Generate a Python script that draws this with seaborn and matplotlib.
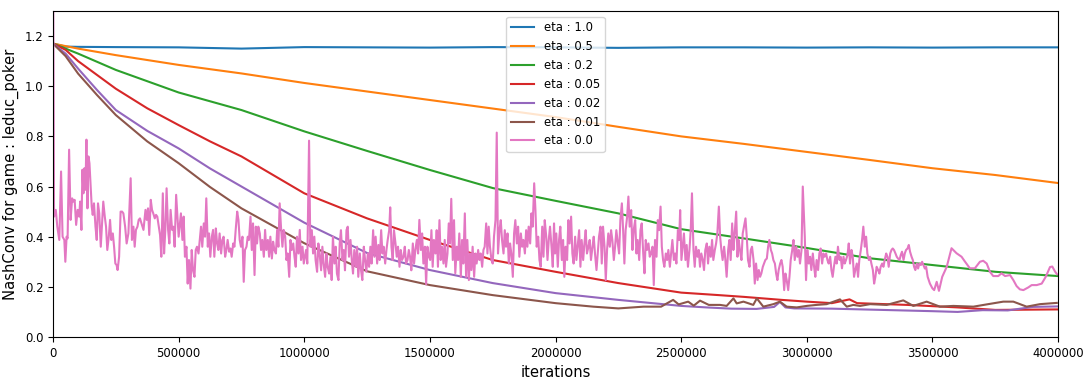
import numpy as np
import pandas as pd
import matplotlib
matplotlib.use('Agg')
import matplotlib.pyplot as plt
import seaborn as sns
from matplotlib.ticker import ScalarFormatter


labels = ['eta : 1.0', 'eta : 0.5', 'eta : 0.2', 'eta : 0.05',
          'eta : 0.02', 'eta : 0.01', 'eta : 0.0']

# iterations are in thousands
k_main = [0, 50, 100, 250, 500, 750, 1000, 1250, 1500, 1750, 2000,
          2250, 2500, 2750, 3000, 3250, 3500, 3750, 4000]
eta_1_0 = [1.17, 1.158, 1.157, 1.156, 1.155, 1.150, 1.156, 1.155, 1.154, 1.156,
           1.155, 1.153, 1.155, 1.155, 1.154, 1.155, 1.154, 1.155, 1.155]
eta_0_5 = [1.17, 1.16, 1.15, 1.124, 1.085, 1.051, 1.013, 0.979, 0.945, 0.911,
           0.877, 0.838, 0.80, 0.77, 0.738, 0.706, 0.673, 0.646, 0.614]
eta_0_2 = [1.17, 1.15, 1.13, 1.065, 0.975, 0.905, 0.82, 0.742, 0.666, 0.594,
           0.543, 0.493, 0.43, 0.393, 0.355, 0.314, 0.287, 0.26, 0.243]

k_red = [0, 50, 100, 175, 250, 375, 500, 625, 750, 1000, 1250, 1500, 1750, 2000,
         2250, 2500, 2650, 2750, 2900, 3000, 3100, 3170, 3200, 3400, 3600, 3750, 4000]
eta_0_05 = [1.17, 1.145, 1.10, 1.045, 0.99, 0.912, 0.845, 0.78, 0.72, 0.573,
            0.473, 0.387, 0.307, 0.26, 0.215, 0.177, 0.167, 0.16, 0.148, 0.141,
            0.135, 0.15, 0.135, 0.128, 0.118, 0.108, 0.11]

k_purple = [0, 50, 100, 175, 250, 375, 500, 625, 750, 1000, 1250, 1500, 1750,
            2000, 2250, 2500, 2600, 2700, 2800, 2870, 2893, 2915, 2950, 3100,
            3300, 3500, 3600, 3700, 3800, 3900, 4000]
eta_0_02 = [1.17, 1.13, 1.07, 0.985, 0.905, 0.822, 0.752, 0.672, 0.60, 0.456,
            0.335, 0.267, 0.215, 0.175, 0.148, 0.124, 0.118, 0.113, 0.112, 0.12,
            0.14, 0.118, 0.114, 0.113, 0.108, 0.103, 0.10, 0.107, 0.106, 0.12, 0.122]

k_brown = [0, 50, 100, 175, 250, 375, 500, 625, 750, 1000, 1250, 1500, 1750,
           2000, 2150, 2250, 2350, 2420, 2468, 2490, 2528, 2550, 2575, 2610,
           2655, 2681, 2708, 2721, 2748, 2787, 2801, 2827, 2867, 2893, 2920,
           2960, 3000, 3039, 3079, 3132, 3159, 3185, 3212, 3252, 3318, 3384,
           3424, 3477, 3530, 3583, 3663, 3716, 3782, 3822, 3875, 3928, 3995]
eta_0_01 = [1.17, 1.12, 1.05, 0.965, 0.885, 0.78, 0.693, 0.598, 0.513, 0.374,
            0.262, 0.207, 0.167, 0.135, 0.121, 0.114, 0.121, 0.121, 0.148, 0.13,
            0.141, 0.125, 0.145, 0.128, 0.128, 0.124, 0.154, 0.134, 0.141, 0.128,
            0.154, 0.121, 0.131, 0.141, 0.121, 0.118, 0.124, 0.128, 0.131, 0.150,
            0.121, 0.128, 0.124, 0.131, 0.128, 0.146, 0.124, 0.141, 0.121, 0.124,
            0.121, 0.130, 0.141, 0.141, 0.121, 0.131, 0.136]

k_pink = [
    0, 4, 11, 17, 25, 32, 38, 45, 49, 54, 58, 64, 70, 76, 81, 86, 92, 98, 104, 108,
    113, 117, 121, 125, 129, 133, 137, 141, 145, 149, 154, 158, 163, 169, 174, 179,
    184, 190, 195, 200, 206, 211, 216, 222, 227, 232, 238, 243, 248, 253, 257, 263,
    269, 275, 280, 287, 293, 300, 309, 314, 320, 325, 330, 336, 341, 346, 352, 360,
    368, 373, 378, 383, 389, 394, 399, 405, 410, 415, 421, 426, 431, 437, 442, 447,
    452, 458, 463, 468, 474, 479, 484, 490, 495, 500,
    509, 515, 520, 525, 531, 536, 541, 547, 552, 557, 563, 568, 573, 579, 584, 589,
    594, 600, 605, 610, 616, 621, 626, 632, 637, 642, 648, 653, 658, 663, 669, 674,
    679, 685, 690, 695, 701, 706, 711, 717, 722, 727, 733, 738, 743, 748, 754, 759,
    764, 770, 775, 780, 786, 791, 796, 802, 807, 812, 817, 823, 828, 833, 839, 844,
    849, 855, 860, 865, 871, 876, 881, 887, 892, 897, 902, 908, 913, 918, 924, 929,
    934, 940, 945, 950, 956, 961, 966, 971, 977, 982, 987, 993, 998,
    1007, 1012, 1019, 1024, 1030, 1035, 1040, 1045, 1051, 1056, 1061, 1067, 1072,
    1077, 1083, 1088, 1093, 1099, 1104, 1109, 1114, 1120, 1125, 1130, 1136, 1141,
    1146, 1152, 1157, 1162, 1168, 1173, 1178, 1184, 1189, 1194, 1199, 1205, 1210,
    1215, 1221, 1226, 1231, 1237, 1242, 1247, 1253, 1258, 1263, 1268, 1274, 1279,
    1284, 1290, 1295, 1300, 1306, 1311, 1316, 1322, 1327, 1332, 1338, 1342, 1347,
    1352, 1357, 1363, 1368, 1373, 1379, 1384, 1389, 1395, 1400, 1405, 1411, 1416,
    1421, 1426, 1432, 1437, 1442, 1448, 1453, 1458, 1464, 1469, 1474, 1480, 1485,
    1490, 1496,
    1501, 1506, 1511, 1516, 1522, 1527, 1532, 1538, 1543, 1548, 1554, 1559, 1564,
    1570, 1575, 1580, 1585, 1591, 1596, 1601, 1607, 1612, 1617, 1623, 1628, 1633,
    1639, 1644, 1649, 1655, 1660, 1665, 1670, 1676, 1681, 1686, 1692, 1697, 1702,
    1708, 1713, 1718, 1724, 1729, 1734, 1739, 1745, 1750, 1755, 1761, 1766, 1771,
    1777, 1782, 1787, 1793, 1798, 1803, 1809, 1814, 1819, 1824, 1830, 1835, 1840,
    1846, 1851, 1856, 1862, 1867, 1872, 1878, 1883, 1888, 1893, 1899, 1904, 1909,
    1915, 1920, 1925, 1931, 1936, 1941, 1947, 1952, 1957, 1963, 1968, 1973, 1978,
    1984, 1989, 1994,
    1998, 2003, 2009, 2014, 2019, 2025, 2030, 2035, 2040, 2046, 2051, 2056, 2062,
    2067, 2072, 2078, 2083, 2088, 2094, 2099, 2104, 2110, 2115, 2120, 2125, 2131,
    2136, 2141, 2147, 2152, 2157, 2163, 2168, 2173, 2179, 2184, 2189, 2195, 2200,
    2205, 2210, 2216, 2221, 2226, 2232, 2237, 2242, 2248, 2253, 2258, 2264, 2269,
    2274, 2279, 2285, 2290, 2295, 2301, 2306, 2311, 2317, 2322, 2327, 2333, 2338,
    2343, 2349, 2354, 2359, 2364, 2370, 2375, 2380, 2386, 2391, 2396, 2402, 2407,
    2412, 2418, 2423, 2428, 2433, 2439, 2444, 2449, 2455, 2460, 2465, 2471, 2476,
    2481, 2487, 2492,
    2496, 2501, 2506, 2511, 2517, 2522, 2527, 2533, 2538, 2543, 2549, 2554, 2559,
    2565, 2570, 2575, 2580, 2586, 2591, 2596, 2602, 2607, 2612, 2618, 2623, 2628,
    2634, 2639, 2644, 2650, 2655, 2660, 2665, 2671, 2676, 2681, 2687, 2692, 2697,
    2703, 2708, 2713, 2719, 2724, 2729, 2734, 2740, 2745, 2750, 2756, 2761, 2766,
    2772, 2777, 2782, 2788, 2793, 2798, 2804, 2809, 2814, 2819, 2825, 2830, 2835,
    2841, 2846, 2851, 2857, 2862, 2867, 2873, 2878, 2883, 2888, 2894, 2899, 2904,
    2910, 2915, 2920, 2926, 2931, 2936, 2942, 2947, 2952, 2958, 2963, 2968, 2973,
    2979, 2984,
    2992, 2997, 3002, 3008, 3013, 3018, 3024, 3029, 3034, 3039, 3045, 3050, 3055,
    3061, 3066, 3071, 3077, 3082, 3087, 3093, 3098, 3103, 3108, 3114, 3119, 3124,
    3130, 3135, 3140, 3146, 3151, 3156, 3162, 3167, 3172, 3178, 3183, 3188, 3193,
    3199, 3204, 3209, 3215, 3220, 3225, 3231, 3236, 3241, 3247, 3252, 3257, 3263,
    3268, 3273, 3278, 3284, 3289, 3294, 3300, 3305, 3310, 3316, 3321, 3326, 3332,
    3337, 3342, 3347, 3353, 3358, 3363, 3369, 3374, 3379, 3385, 3390, 3395, 3401,
    3406, 3411, 3417, 3422, 3427, 3432, 3438, 3443, 3448, 3454, 3459, 3464, 3470,
    3475,
    3481, 3490, 3500, 3507, 3517, 3526, 3539, 3557, 3576, 3596, 3616, 3630, 3649,
    3669, 3689, 3702, 3716, 3729, 3742, 3762, 3775, 3789, 3809, 3822, 3835, 3848,
    3862, 3882, 3895, 3915, 3935, 3951, 3968, 3977, 3988, 3996]
eta_0_0 = [
    1.60, 0.48, 0.507, 0.44, 0.387, 0.66, 0.40, 0.387, 0.30, 0.40, 0.393, 0.747,
    0.467, 0.553, 0.54, 0.547, 0.447, 0.507, 0.48, 0.54, 0.427, 0.667, 0.573, 0.673,
    0.587, 0.787, 0.513, 0.72, 0.693, 0.613, 0.52, 0.487, 0.533, 0.44, 0.387, 0.533,
    0.493, 0.36, 0.453, 0.54, 0.48, 0.44, 0.347, 0.40, 0.467, 0.387, 0.413, 0.36,
    0.293, 0.287, 0.267, 0.32, 0.50, 0.50, 0.493, 0.44, 0.373, 0.413, 0.633, 0.387,
    0.44, 0.36, 0.427, 0.44, 0.467, 0.473, 0.453, 0.427, 0.507, 0.467, 0.513, 0.407,
    0.547, 0.507, 0.493, 0.473, 0.487, 0.48, 0.44, 0.407, 0.32, 0.573, 0.333, 0.427,
    0.593, 0.427, 0.373, 0.507, 0.427, 0.44, 0.36, 0.567, 0.48, 0.40,
    0.493, 0.387, 0.48, 0.32, 0.36, 0.213, 0.307, 0.193, 0.347, 0.267, 0.24, 0.347,
    0.36, 0.333, 0.387, 0.44, 0.36, 0.453, 0.40, 0.553, 0.36, 0.413, 0.32, 0.40,
    0.427, 0.32, 0.433, 0.373, 0.347, 0.413, 0.333, 0.387, 0.40, 0.32, 0.347, 0.387,
    0.34, 0.353, 0.32, 0.373, 0.36, 0.427, 0.50, 0.467, 0.387, 0.36, 0.40, 0.22,
    0.347, 0.36, 0.40, 0.387, 0.48, 0.347, 0.453, 0.247, 0.44, 0.373, 0.44, 0.413,
    0.347, 0.387, 0.32, 0.427, 0.347, 0.387, 0.32, 0.40, 0.313, 0.38, 0.347, 0.333,
    0.427, 0.36, 0.533, 0.427, 0.36, 0.427, 0.40, 0.307, 0.333, 0.24, 0.387, 0.347,
    0.373, 0.32, 0.28, 0.40, 0.333, 0.427, 0.307, 0.36, 0.293,
    0.347, 0.293, 0.783, 0.36, 0.426, 0.333, 0.40, 0.307, 0.26, 0.373, 0.333, 0.266,
    0.36, 0.293, 0.24, 0.333, 0.28, 0.253, 0.319, 0.227, 0.40, 0.293, 0.36, 0.253,
    0.227, 0.373, 0.426, 0.307, 0.347, 0.266, 0.426, 0.44, 0.32, 0.387, 0.307, 0.253,
    0.347, 0.28, 0.36, 0.24, 0.333, 0.266, 0.227, 0.36, 0.307, 0.26, 0.333, 0.28,
    0.36, 0.293, 0.426, 0.32, 0.40, 0.293, 0.367, 0.307, 0.426, 0.333, 0.36, 0.293,
    0.347, 0.387, 0.426, 0.517, 0.36, 0.307, 0.426, 0.373, 0.32, 0.36, 0.28, 0.347,
    0.307, 0.32, 0.36, 0.293, 0.307, 0.347, 0.32, 0.266, 0.373, 0.293, 0.347, 0.387,
    0.333, 0.467, 0.347, 0.413, 0.293, 0.36, 0.21, 0.36, 0.32,
    0.307, 0.426, 0.28, 0.387, 0.333, 0.426, 0.28, 0.466, 0.307, 0.36, 0.293, 0.387,
    0.28, 0.333, 0.453, 0.373, 0.551, 0.307, 0.466, 0.254, 0.36, 0.307, 0.413, 0.24,
    0.387, 0.293, 0.493, 0.24, 0.387, 0.227, 0.333, 0.267, 0.36, 0.24, 0.333, 0.293,
    0.347, 0.307, 0.333, 0.28, 0.347, 0.36, 0.453, 0.333, 0.44, 0.36, 0.307, 0.293,
    0.40, 0.466, 0.815, 0.333, 0.426, 0.466, 0.387, 0.333, 0.426, 0.36, 0.413, 0.293,
    0.373, 0.333, 0.24, 0.413, 0.466, 0.373, 0.44, 0.32, 0.413, 0.36, 0.387, 0.333,
    0.426, 0.36, 0.44, 0.373, 0.493, 0.44, 0.613, 0.506, 0.36, 0.40, 0.307, 0.28,
    0.44, 0.32, 0.466, 0.40, 0.307, 0.387, 0.44, 0.36, 0.28, 0.453,
    0.333, 0.413, 0.28, 0.387, 0.44, 0.307, 0.387, 0.24, 0.36, 0.307, 0.466, 0.373,
    0.48, 0.333, 0.293, 0.40, 0.307, 0.36, 0.426, 0.28, 0.387, 0.307, 0.373, 0.426,
    0.333, 0.36, 0.387, 0.307, 0.36, 0.40, 0.333, 0.267, 0.333, 0.40, 0.44, 0.293,
    0.44, 0.36, 0.227, 0.347, 0.413, 0.36, 0.426, 0.387, 0.307, 0.36, 0.426, 0.373,
    0.333, 0.466, 0.533, 0.426, 0.293, 0.426, 0.48, 0.56, 0.44, 0.506, 0.347, 0.426,
    0.466, 0.333, 0.387, 0.307, 0.426, 0.453, 0.333, 0.254, 0.387, 0.347, 0.373, 0.32,
    0.333, 0.36, 0.207, 0.387, 0.32, 0.466, 0.426, 0.52, 0.36, 0.307, 0.28, 0.333,
    0.307, 0.347, 0.28, 0.333, 0.387, 0.307, 0.333, 0.293, 0.426, 0.387,
    0.506, 0.307, 0.36, 0.413, 0.307, 0.367, 0.28, 0.347, 0.426, 0.573, 0.347, 0.28,
    0.36, 0.32, 0.347, 0.28, 0.333, 0.307, 0.267, 0.347, 0.373, 0.293, 0.36, 0.32,
    0.387, 0.307, 0.347, 0.373, 0.413, 0.52, 0.40, 0.347, 0.307, 0.36, 0.307, 0.24,
    0.347, 0.387, 0.307, 0.453, 0.347, 0.413, 0.50, 0.32, 0.387, 0.347, 0.307, 0.413,
    0.44, 0.473, 0.40, 0.307, 0.28, 0.347, 0.36, 0.307, 0.213, 0.293, 0.227, 0.267,
    0.24, 0.253, 0.28, 0.293, 0.307, 0.313, 0.36, 0.387, 0.347, 0.333, 0.307, 0.293,
    0.253, 0.227, 0.267, 0.293, 0.307, 0.28, 0.187, 0.253, 0.227, 0.187, 0.24, 0.307,
    0.347, 0.387, 0.307, 0.36, 0.32, 0.347, 0.293, 0.347, 0.60,
    0.40, 0.227, 0.347, 0.293, 0.32, 0.267, 0.333, 0.28, 0.24, 0.307, 0.267, 0.333,
    0.353, 0.293, 0.333, 0.32, 0.333, 0.307, 0.293, 0.32, 0.267, 0.24, 0.28, 0.32,
    0.293, 0.36, 0.307, 0.32, 0.274, 0.32, 0.293, 0.307, 0.327, 0.373, 0.293, 0.347,
    0.32, 0.24, 0.267, 0.293, 0.24, 0.307, 0.347, 0.387, 0.44, 0.36, 0.40, 0.333,
    0.307, 0.32, 0.293, 0.267, 0.213, 0.24, 0.28, 0.267, 0.253, 0.28, 0.293, 0.28,
    0.307, 0.333, 0.32, 0.28, 0.333, 0.347, 0.353, 0.347, 0.333, 0.32, 0.313, 0.307,
    0.327, 0.34, 0.307, 0.333, 0.347, 0.353, 0.367, 0.34, 0.32, 0.307, 0.28, 0.267,
    0.293, 0.273, 0.293, 0.287, 0.30, 0.287, 0.273, 0.28,
    0.24, 0.213, 0.194, 0.187, 0.22, 0.184, 0.24, 0.28, 0.354, 0.334, 0.32, 0.30,
    0.274, 0.274, 0.30, 0.304, 0.293, 0.26, 0.243, 0.243, 0.254, 0.243, 0.247, 0.227,
    0.203, 0.19, 0.187, 0.198, 0.207, 0.207, 0.213, 0.24, 0.279, 0.281, 0.261, 0.25]


series = [(k_main, eta_1_0), (k_main, eta_0_5), (k_main, eta_0_2), (k_red, eta_0_05),
          (k_purple, eta_0_02), (k_brown, eta_0_01), (k_pink, eta_0_0)]

frames = []
for lab, (k, v) in zip(labels, series):
    frames.append(pd.DataFrame({'iterations': np.array(k) * 1000,
                                'nashconv': v, 'eta': lab}))
df = pd.concat(frames, ignore_index=True)

fig = plt.figure(figsize=(10.91, 3.83), dpi=100)
ax = fig.add_axes([0.0486, 0.1201, 0.9212, 0.8512])

sns.lineplot(data=df, x='iterations', y='nashconv', hue='eta', hue_order=labels,
             palette=sns.color_palette('tab10', 7), estimator=None, sort=False,
             linewidth=1.5, ax=ax)

handles, lbls = ax.get_legend_handles_labels()
ax.legend(handles, lbls, loc='upper center', fontsize=8.4)

ax.set_xlim(0, 4000000)
ax.set_ylim(0, 1.3)
ax.set_xticks(np.arange(0, 4000001, 500000))
ax.set_yticks([0.0, 0.2, 0.4, 0.6, 0.8, 1.0, 1.2])
ax.xaxis.set_major_formatter(ScalarFormatter(useOffset=False))
ax.ticklabel_format(axis='x', style='plain')
ax.tick_params(labelsize=8.4)
ax.set_xlabel('iterations', fontsize=10.6)
ax.set_ylabel('NashConv for game : leduc_poker', fontsize=10.6)

fig.savefig('out.png', dpi=100)
